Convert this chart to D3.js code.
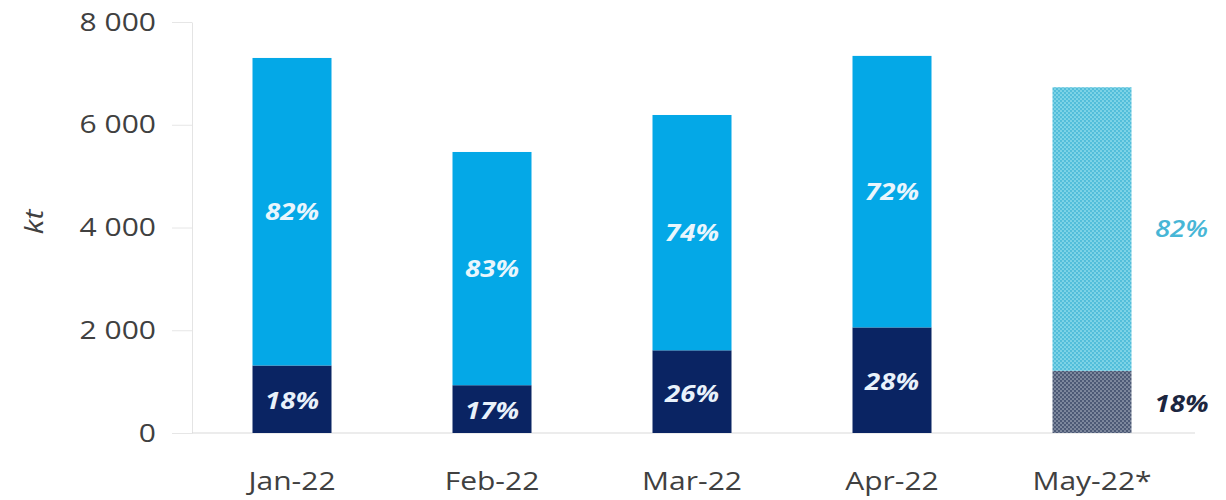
<!DOCTYPE html>
<html>
<head>
<meta charset="utf-8">
<script src="https://cdn.jsdelivr.net/npm/d3@7"></script>
<style>
  html, body { margin: 0; padding: 0; background: #ffffff; }
  svg { display: block; }
  text { font-family: "Open Sans", Lato, sans-serif; }
</style>
</head>
<body>
<svg id="chart" width="1226" height="500"></svg>
<script>
// Monthly volumes (kt) and the share of each component in percent
const categories = ["Jan-22", "Feb-22", "Mar-22", "Apr-22", "May-22*"];
const totals = [7300, 5470, 6190, 7340, 6730];
const darkShare = [18, 17, 26, 28, 18];
const lightShare = [82, 83, 74, 72, 82];
const estimated = [false, false, false, false, true];
const yTicks = [0, 2000, 4000, 6000, 8000];
const yTitle = "kt";

// Horizontal stretch applied to every label
const SX = 1.2;

const rows = categories.map((c, i) => {
  const dark = totals[i] * darkShare[i] / 100;
  return {
    cat: c,
    dark: dark,
    light: totals[i] - dark,
    total: totals[i],
    dShare: darkShare[i],
    lShare: lightShare[i],
    est: estimated[i]
  };
});

const svg = d3.select("#chart");

const x = d3.scaleBand()
  .domain(categories)
  .range([192, 1192])
  .paddingInner(0.605)
  .paddingOuter(0.3025);

const y = d3.scaleLinear()
  .domain([0, 8000])
  .range([433, 22]);

// Soft diagonal dot patterns for the estimated month
const defs = svg.append("defs");
function dotPattern(id, base, dot, light) {
  const p = defs.append("pattern")
    .attr("id", id)
    .attr("width", 4).attr("height", 4)
    .attr("patternUnits", "userSpaceOnUse");
  p.append("rect").attr("width", 4).attr("height", 4).attr("fill", base);
  p.append("circle").attr("cx", 1).attr("cy", 1).attr("r", 0.9).attr("fill", dot);
  p.append("circle").attr("cx", 3).attr("cy", 3).attr("r", 0.9).attr("fill", dot);
  p.append("circle").attr("cx", 3).attr("cy", 1).attr("r", 0.6).attr("fill", light);
  p.append("circle").attr("cx", 1).attr("cy", 3).attr("r", 0.6).attr("fill", light);
}
dotPattern("estLight", "#6ccde3", "#46b7d6", "#b4e7f2");
dotPattern("estDark", "#6f7b92", "#3c4a68", "#aab1c1");

// Y axis
const yAxis = svg.append("g")
  .attr("transform", `translate(${x.range()[0]},0)`)
  .call(d3.axisLeft(y).tickValues(yTicks).tickSize(20).tickSizeOuter(0).tickPadding(16).tickFormat(d => d3.format(",")(d).replace(/,/g, " ")));
yAxis.select(".domain").attr("stroke", "#e4e4e4");
yAxis.selectAll(".tick line").attr("stroke", "#e6e6e6");
yAxis.selectAll(".tick text")
  .attr("fill", "#404040")
  .attr("font-size", 25)
  .each(function () {
    const t = d3.select(this);
    const tx = +t.attr("x");
    t.attr("x", 0).attr("transform", `translate(${tx},0) scale(${SX},1)`);
  });

// Baseline
svg.append("line")
  .attr("x1", x.range()[0]).attr("x2", x.range()[1] + 3)
  .attr("y1", y(0)).attr("y2", y(0))
  .attr("stroke", "#d9d9d9");

// Y title
svg.append("text")
  .attr("transform", `translate(43,222) rotate(-90) scale(${SX},1)`)
  .attr("text-anchor", "middle")
  .attr("font-size", 25)
  .attr("font-style", "italic")
  .attr("fill", "#404040")
  .text(yTitle);

// Bars
const bars = svg.append("g").selectAll("g").data(rows).join("g");

bars.append("rect")
  .attr("x", d => x(d.cat))
  .attr("width", x.bandwidth())
  .attr("y", d => y(d.dark))
  .attr("height", d => y(0) - y(d.dark))
  .attr("fill", d => d.est ? "url(#estDark)" : "#0a2463");

bars.append("rect")
  .attr("x", d => x(d.cat))
  .attr("width", x.bandwidth())
  .attr("y", d => y(d.total))
  .attr("height", d => y(d.dark) - y(d.total))
  .attr("fill", d => d.est ? "url(#estLight)" : "#04a8e7");

// Share labels: inside the bar for actual months, beside it for the estimate
function labelX(d) {
  return d.est ? x(d.cat) + x.bandwidth() + 50 : x(d.cat) + x.bandwidth() / 2;
}

bars.append("text")
  .attr("transform", d => `translate(${labelX(d)},${(y(d.total) + y(d.dark)) / 2}) scale(${SX},1)`)
  .attr("text-anchor", "middle")
  .attr("dy", "0.35em")
  .attr("font-size", 23)
  .attr("font-style", "italic")
  .attr("font-weight", d => d.est ? 600 : 700)
  .attr("fill", d => d.est ? "#47b6d6" : "#e9f6fd")
  .text(d => d.lShare + "%");

bars.append("text")
  .attr("transform", d => `translate(${labelX(d)},${(y(0) + y(d.dark)) / 2 + 2}) scale(${SX},1)`)
  .attr("text-anchor", "middle")
  .attr("dy", "0.35em")
  .attr("font-size", 23)
  .attr("font-style", "italic")
  .attr("font-weight", 700)
  .attr("fill", d => d.est ? "#1c2640" : "#e9f2fb")
  .text(d => d.dShare + "%");

// X axis labels
const xAxis = svg.append("g")
  .attr("transform", `translate(0,${y(0)})`)
  .call(d3.axisBottom(x).tickSize(0).tickPadding(0));
xAxis.select(".domain").remove();
xAxis.selectAll(".tick text")
  .attr("fill", "#404040")
  .attr("font-size", 25)
  .attr("y", 0)
  .attr("dy", 0)
  .attr("transform", `translate(0,57) scale(${SX},1)`);
</script>
</body>
</html>
